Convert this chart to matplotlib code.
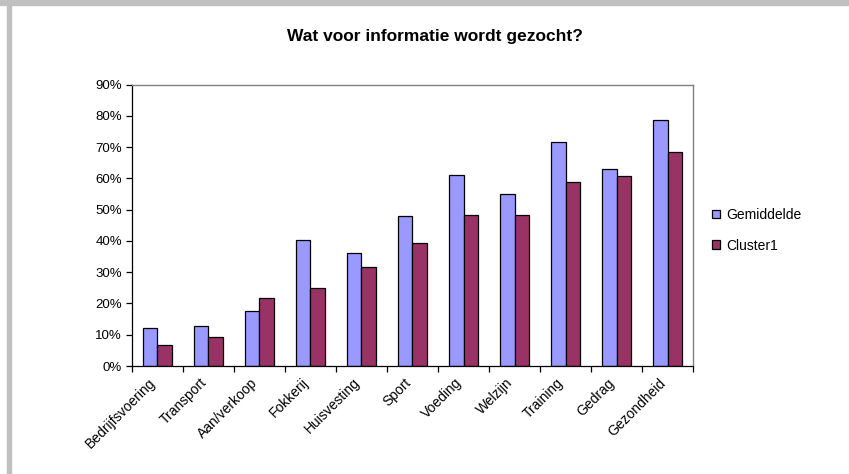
import numpy as np
import matplotlib
matplotlib.use('Agg')
import matplotlib.pyplot as plt
import matplotlib.transforms as mtransforms
from matplotlib.patches import Rectangle
from matplotlib.ticker import PercentFormatter

plt.rcParams['font.family'] = ['Liberation Sans', 'DejaVu Sans']

# data
categories = ['Bedrijfsvoering', 'Transport', 'Aan/verkoop', 'Fokkerij', 'Huisvesting',
              'Sport', 'Voeding', 'Welzijn', 'Training', 'Gedrag', 'Gezondheid']
gemiddelde = [12.1, 12.8, 17.5, 40.4, 36.2, 47.9, 61.1, 55.0, 71.6, 62.9, 78.8]
cluster1 = [6.7, 9.3, 21.7, 24.9, 31.6, 39.4, 48.3, 48.3, 58.9, 60.6, 68.5]
series_names = ['Gemiddelde', 'Cluster1']

fig = plt.figure(figsize=(8.49, 4.74), dpi=100)

# screenshot frame (gray strips at top and left)
fig.patches.append(Rectangle((0, 1 - 4.5/474), 1, 4.5/474, transform=fig.transFigure,
                             color='#c0c0c0', zorder=0))
fig.patches.append(Rectangle((7/849, 0), 4/849, 1, transform=fig.transFigure,
                             color='#c0c0c0', zorder=0))

ax = fig.add_axes([0.1551, 0.2278, 0.6615, 0.5939])
x = np.arange(len(categories))
w = 0.285
ax.bar(x - w/2, gemiddelde, w, color='#9999ff', edgecolor='black', linewidth=0.9,
       label=series_names[0])
ax.bar(x + w/2, cluster1, w, color='#993366', edgecolor='black', linewidth=0.9,
       label=series_names[1])

ax.set_xlim(-0.5, len(categories) - 0.5)
ax.set_ylim(0, 90)
ax.set_yticks(np.arange(0, 91, 10))
ax.yaxis.set_major_formatter(PercentFormatter(decimals=0))
ax.tick_params(axis='y', direction='out', length=4, width=0.9, labelsize=9.5, pad=3)

ax.set_xticks(x)
ax.set_xticklabels(categories, rotation=45, ha='right', va='top', rotation_mode='anchor',
                   fontsize=10)
ax.tick_params(axis='x', which='major', length=0, pad=7)
shift = mtransforms.ScaledTranslation(-9/100, 0, fig.dpi_scale_trans)
for lbl in ax.get_xticklabels():
    lbl.set_transform(lbl.get_transform() + shift)
ax.set_xticks(np.arange(-0.5, len(categories), 1), minor=True)
ax.tick_params(axis='x', which='minor', direction='out', length=4, width=0.9)

for s in ['left', 'bottom']:
    ax.spines[s].set_color('black')
    ax.spines[s].set_linewidth(0.9)
for s in ['top', 'right']:
    ax.spines[s].set_color('#808080')
    ax.spines[s].set_linewidth(1.0)

ax.set_title('Wat voor informatie wordt gezocht?', fontsize=12.5, fontweight='bold', pad=31,
             x=0.54)

ax.legend(loc='upper left', bbox_to_anchor=(0.832, 0.573), bbox_transform=fig.transFigure,
          frameon=False, fontsize=10, handlelength=0.6, handleheight=0.6,
          handletextpad=0.4, labelspacing=1.2, borderaxespad=0)

plt.savefig('out.png', dpi=100)
